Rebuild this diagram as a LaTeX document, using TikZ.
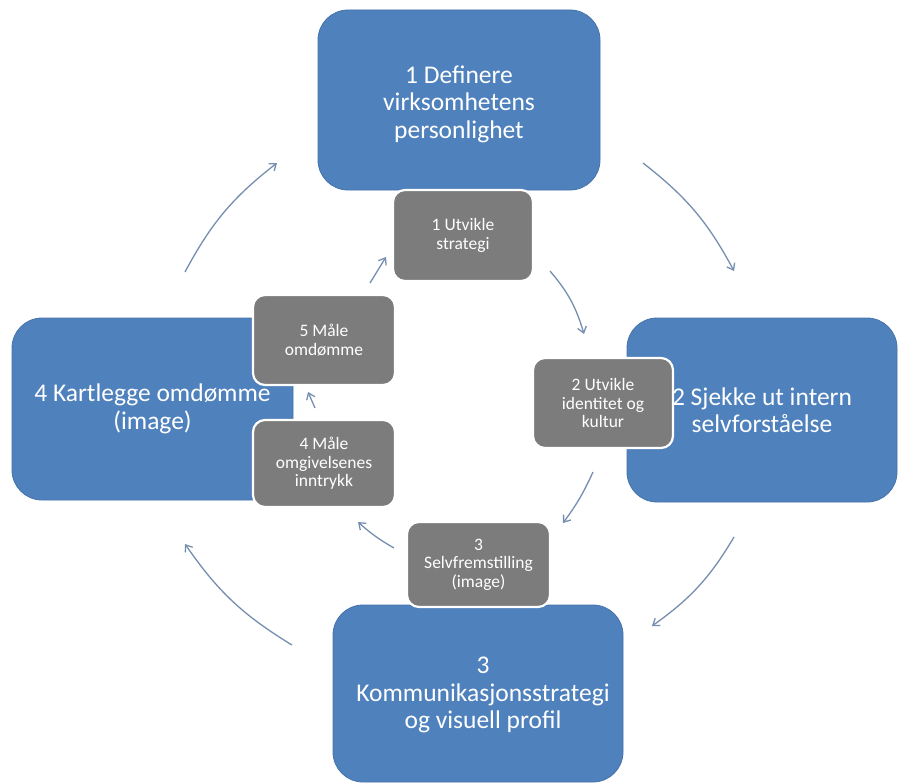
\documentclass[tikz,border=0pt]{standalone}
\usepackage{fontspec}
\setmainfont{Carlito}
\usetikzlibrary{arrows.meta}
\definecolor{myblue}{RGB}{79,129,189}
\definecolor{myblueedge}{RGB}{70,115,170}
\definecolor{mygray}{RGB}{124,124,124}
\definecolor{myarrow}{RGB}{118,142,176}
\begin{document}
\begin{tikzpicture}[x=1pt,y=-1pt,
  bluebox/.style={fill=myblue,draw=myblueedge,line width=0.8pt,rounded corners=30pt,inner sep=0pt,
    text=white,align=center,font=\fontsize{25.5}{27.5}\selectfont},
  graybox/.style={fill=mygray,draw=white,line width=2.2pt,rounded corners=12pt,inner sep=0pt,
    text=white,align=center,font=\fontsize{17.5}{18.5}\selectfont},
  flow/.style={draw=myarrow,line width=1.3pt,-{Straight Barb[length=6pt,width=9pt,line width=1.3pt]}}]
\useasboundingbox (0,0) rectangle (898,784);
\fill[white] (0,0) rectangle (898,784);
% blue boxes
\node[bluebox,minimum width=282pt,minimum height=180pt] (b1) at (459,100) {};
\node[text=white,align=center,font=\fontsize{25.5}{27.5}\selectfont] (t1) at (459,104) {1 Definere\\virksomhetens\\personlighet};
\node[bluebox,minimum width=270pt,minimum height=184pt] (b2) at (762,410) {2 Sjekke ut intern\\selvforståelse};
\node[bluebox,minimum width=281pt,minimum height=182pt] (b4) at (152.5,409) {4 Kartlegge omdømme\\(image)};
\node[bluebox,minimum width=290pt,minimum height=177pt] (b3) at (478,693.5) {};
\node[text=white,align=center,font=\fontsize{25.5}{27.5}\selectfont] (t3) at (483,695) {3\\Kommunikasjonsstrategi\\og visuell profil};
% gray boxes
\node[graybox,minimum width=140pt,minimum height=91pt] (g1) at (463,235.5) {1 Utvikle\\strategi};
\node[graybox,minimum width=140pt,minimum height=90pt] (g2) at (603,403) {2 Utvikle\\identitet og\\kultur};
\node[graybox,minimum width=143pt,minimum height=85pt] (g3) at (478.5,564.5) {3\\Selvfremstilling\\(image)};
\node[graybox,minimum width=142pt,minimum height=90pt] (g5) at (324,340) {5 Måle\\omdømme};
\node[graybox,minimum width=142pt,minimum height=87pt] (g4) at (324,463.5) {4 Måle\\omgivelsenes\\inntrykk};
% arrow end points
\coordinate (o1s) at (185,272); \coordinate (o1e) at (277,163);
\coordinate (o2s) at (643,163); \coordinate (o2e) at (734,271);
\coordinate (o3s) at (734,537); \coordinate (o3e) at (652,626);
\coordinate (o4s) at (292,645); \coordinate (o4e) at (185,544);
\coordinate (i1s) at (550,271); \coordinate (i1e) at (584,334);
\coordinate (i2s) at (593,472); \coordinate (i2e) at (563,523);
\coordinate (i3s) at (394,548); \coordinate (i3e) at (358,522);
\coordinate (i4s) at (315,408); \coordinate (i4e) at (308,392);
\coordinate (i5s) at (370,283); \coordinate (i5e) at (386,257);
% outer arrows
\draw[flow] (o1s) to[bend left=12] (o1e);
\draw[flow] (o2s) to[bend left=12] (o2e);
\draw[flow] (o3s) to[bend left=12] (o3e);
\draw[flow] (o4s) to[bend left=12] (o4e);
% inner arrows
\draw[flow] (i1s) to[bend left=12] (i1e);
\draw[flow] (i2s) to[bend left=6] (i2e);
\draw[flow] (i3s) to[bend left=6] (i3e);
\draw[flow] (i4s) -- (i4e);
\draw[flow] (i5s) -- (i5e);
\end{tikzpicture}
\end{document}
